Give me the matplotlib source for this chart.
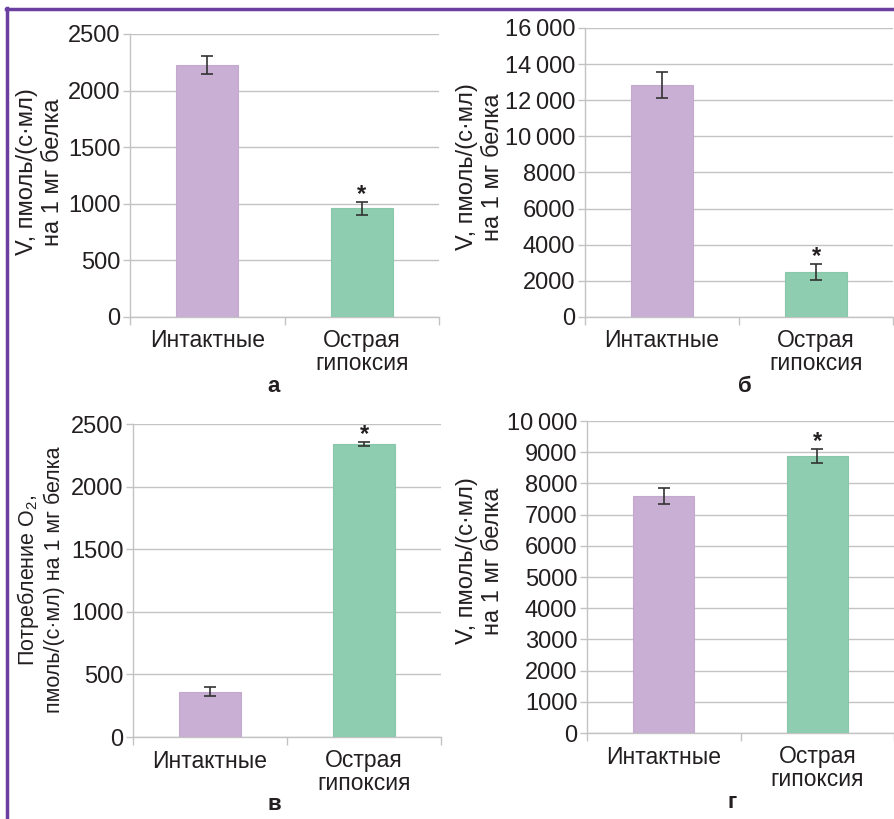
import matplotlib
matplotlib.use('Agg')
import matplotlib.pyplot as plt
from matplotlib.lines import Line2D
from matplotlib.ticker import FuncFormatter, FixedLocator

plt.rcParams['font.family'] = ['Liberation Sans', 'DejaVu Sans']
plt.rcParams['mathtext.fontset'] = 'custom'
plt.rcParams['mathtext.rm'] = 'Liberation Sans'

# данные
categories = ['Интактные', 'Острая\nгипоксия']
a_means = [2230, 960]
a_err = [80, 55]
b_means = [12850, 2500]
b_err = [740, 440]
v_means = [360, 2340]
v_err = [36, 15]
g_means = [7600, 8880]
g_err = [250, 225]
signif = [False, True]

W, H = 895, 819
TXT = '#231f20'
GRID = '#c3c3c3'
colors = ['#c9afd4', '#8ecdb0']

fig = plt.figure(figsize=(W / 100, H / 100), dpi=100)


def px_axes(left, top, right, bottom):
    return fig.add_axes([left / W, (H - bottom) / H, (right - left) / W, (bottom - top) / H])


def fmt(v, pos):
    v = int(round(v))
    if v >= 10000:
        return f'{v:,}'.replace(',', '\u2009')
    return str(v)


def panel(box, means, err, ymax, step, ylabel, lab_xy, lab_size, letter, letter_xy):
    ax = px_axes(*box)
    x = range(len(categories))
    ax.bar(x, means, width=0.4, color=colors, edgecolor=['#c4a9cf', '#88c7aa'],
           linewidth=0.8, zorder=3)
    ax.errorbar(x, means, yerr=err, fmt='none', ecolor='#333333', elinewidth=1.2,
                capsize=4.5, capthick=1.2, zorder=4)
    for i, s in enumerate(signif):
        if s:
            ax.annotate('*', (i, means[i] + err[i]), xytext=(0, -3),
                        textcoords='offset points', ha='center', va='bottom',
                        fontsize=17, fontweight='bold', color=TXT)
    ax.set_xlim(-0.5, len(categories) - 0.5)
    ax.set_ylim(0, ymax)
    ax.yaxis.set_major_locator(FixedLocator(list(range(0, ymax + 1, step))))
    ax.yaxis.set_major_formatter(FuncFormatter(fmt))
    ax.xaxis.set_major_locator(FixedLocator([-0.5, 0.5, 1.5]))
    ax.xaxis.set_major_formatter(FuncFormatter(lambda v, p: ''))
    ax.xaxis.set_minor_locator(FixedLocator(list(x)))
    ax.set_xticklabels(categories, minor=True)
    for t in ax.get_xticklabels(minor=True):
        t.set_linespacing(0.95)
    ax.tick_params(axis='x', which='major', length=6, color=GRID, width=1)
    ax.tick_params(axis='x', which='minor', length=0, pad=9, labelsize=16.5,
                   labelcolor=TXT)
    ax.tick_params(axis='y', length=5, color=GRID, width=1, pad=2,
                   labelsize=17, labelcolor=TXT)
    ax.grid(axis='y', color=GRID, linewidth=1, zorder=0)
    ax.set_axisbelow(True)
    for sp in ['top', 'right']:
        ax.spines[sp].set_visible(False)
    for sp in ['left', 'bottom']:
        ax.spines[sp].set_color(GRID)
        ax.spines[sp].set_linewidth(1)
    fig.text(lab_xy[0] / W, (H - lab_xy[1]) / H, ylabel, rotation=90, ha='center',
             va='center', multialignment='center', fontsize=lab_size, color=TXT,
             linespacing=1.2)
    fig.text(letter_xy[0] / W, (H - letter_xy[1]) / H, letter, ha='center',
             va='center', fontsize=16, fontweight='bold', color=TXT)
    return ax


vlabel = 'V, пмоль/(с·мл)\nна 1 мг белка'
panel((130, 34, 439, 317), a_means, a_err, 2500, 500, vlabel, (40, 172), 17, 'а', (274, 387))
panel((585, 28, 893, 317), b_means, b_err, 16000, 2000, vlabel, (480, 167), 17, 'б', (745, 387))
panel((133, 424, 441, 737), v_means, v_err, 2500, 500,
      'Потребление O$_\\mathregular{2}$,\nпмоль/(с·мл) на 1 мг белка', (40, 580), 15.5,
      'в', (274, 805))
panel((587, 421, 894, 733), g_means, g_err, 10000, 1000, vlabel, (480, 561), 17, 'г', (732, 803))

# рамка
purple = '#6b3fa0'
fig.add_artist(Line2D([6 / W, 1], [(H - 9) / H, (H - 9) / H], color=purple, linewidth=2.5,
                      transform=fig.transFigure))
fig.add_artist(Line2D([7 / W, 7 / W], [0, (H - 8) / H], color=purple, linewidth=2.5,
                      transform=fig.transFigure))

fig.savefig('out.png', dpi=100)
